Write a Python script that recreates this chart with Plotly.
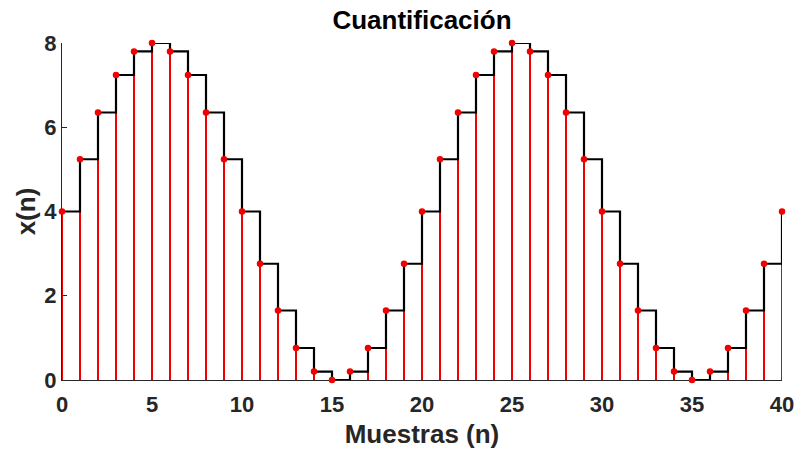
import plotly.graph_objects as go

n = list(range(41))
x_q = [4.00, 5.24, 6.35, 7.24, 7.80, 8.00, 7.80, 7.24, 6.35, 5.24,
       4.00, 2.76, 1.65, 0.76, 0.20, 0.00, 0.20, 0.76, 1.65, 2.76,
       4.00, 5.24, 6.35, 7.24, 7.80, 8.00, 7.80, 7.24, 6.35, 5.24,
       4.00, 2.76, 1.65, 0.76, 0.20, 0.00, 0.20, 0.76, 1.65, 2.76,
       4.00]
x_ticks = [0, 5, 10, 15, 20, 25, 30, 35, 40]
y_ticks = [0, 2, 4, 6, 8]

RED = "#f00000"
AX = "#262626"
FONT = "Liberation Sans, Arial, sans-serif"

stem_x, stem_y = [], []
for xi, yi in zip(n, x_q):
    stem_x += [xi, xi, None]
    stem_y += [0, yi, None]

fig = go.Figure()
fig.add_trace(go.Scatter(x=stem_x, y=stem_y, mode="lines",
                         line=dict(color=RED, width=2), hoverinfo="skip",
                         showlegend=False))
fig.add_trace(go.Scatter(x=n, y=x_q, mode="lines", line_shape="hv",
                         line=dict(color="black", width=2.2), showlegend=False))
fig.add_trace(go.Scatter(x=n, y=x_q, mode="markers",
                         marker=dict(color=RED, size=6.5), cliponaxis=False,
                         showlegend=False))

fig.update_layout(
    width=799, height=451,
    margin=dict(l=62, r=17, t=43, b=71),
    paper_bgcolor="white", plot_bgcolor="white",
    font=dict(family=FONT, color=AX),
    title=dict(text="<b>Cuantificación</b>", x=422 / 799, xanchor="center",
               y=1 - 20 / 451, yanchor="middle",
               font=dict(size=26, color="black", family=FONT)),
    xaxis=dict(range=[0, 40], tickvals=x_ticks,
               ticktext=[f"<b>{v}</b>" for v in x_ticks],
               ticks="inside", ticklen=5, tickcolor=AX, tickwidth=1,
               showline=True, linecolor=AX, linewidth=1,
               showgrid=False, zeroline=False, automargin=False,
               layer="below traces", ticklabelstandoff=5,
               tickfont=dict(size=22, color=AX, family=FONT),
               title=dict(text="<b>Muestras (n)</b>", standoff=8,
                          font=dict(size=26, color=AX, family=FONT))),
    yaxis=dict(range=[0, 8], tickvals=y_ticks,
               ticktext=[f"<b>{v}</b>" for v in y_ticks],
               ticks="inside", ticklen=5, tickcolor=AX, tickwidth=1,
               showline=True, linecolor=AX, linewidth=1,
               showgrid=False, zeroline=False, automargin=False,
               layer="below traces",
               tickfont=dict(size=22, color=AX, family=FONT),
               title=dict(text="<b>x(n)</b>", standoff=1,
                          font=dict(size=26, color=AX, family=FONT))),
)

fig.write_html("out.html")
